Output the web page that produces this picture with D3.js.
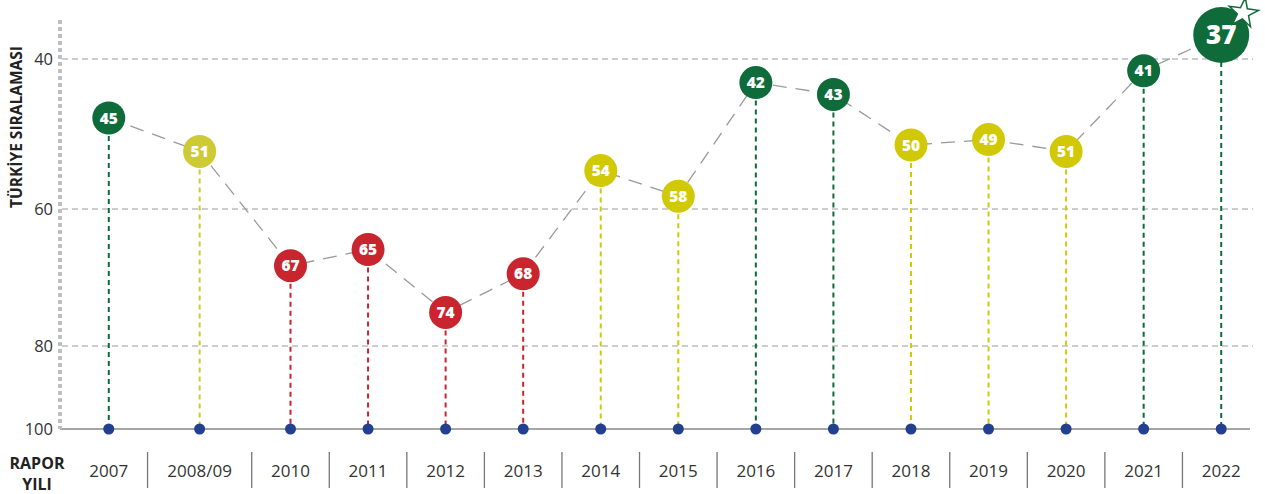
<html lang="tr">
<head>
    <meta charset="UTF-8">
    <title>Türkiye Sıralaması</title>
    <script src="https://cdn.jsdelivr.net/npm/d3@7/dist/d3.min.js"></script>
    <style>
        body { margin: 0; background: #fff; }
        text { font-family: "Open Sans", sans-serif; }
    </style>
</head>
<body>
    <svg id="svg"></svg>

    <script>

        var WIDTH = 1265;
        var HEIGHT = 494;

        // data
        var years = ["2007", "2008/09", "2010", "2011", "2012", "2013", "2014", "2015",
                     "2016", "2017", "2018", "2019", "2020", "2021", "2022"];
        var ranks = [45, 51, 67, 65, 74, 68, 54, 58, 42, 43, 50, 49, 51, 41, 37];
        var tiers = ["top", "mid", "low", "low", "low", "low", "mid", "mid",
                     "top", "top", "mid", "mid", "mid", "top", "top"];
        var yTicks = [40, 60, 80, 100];

        var colors = { top: "#0f6b3a", mid: "#d2c906", low: "#c9252f" };
        var midOld = "#cccb33";

        var svg = d3.select("#svg")
                    .attr("width", WIDTH)
                    .attr("height", HEIGHT);

        // x bands: width grows with label length
        var measure = svg.append("text").attr("font-size", "17px");
        var widths = years.map(function(y){
            measure.text(y);
            return measure.node().getComputedTextLength() + 36;
        });
        measure.remove();
        var cum = [0];
        widths.forEach(function(w, i){ cum.push(cum[i] + w); });
        var xPix = d3.scaleLinear().domain([0, cum[cum.length-1]]).range([70, 1260]);
        var xCenter = function(i){ return xPix(cum[i] + widths[i]/2); };

        // y is not linear in the original
        var yScale = d3.scaleLinear()
                        .domain([37, 40, 45, 50, 60, 70, 80, 100])
                        .range([35, 59, 118, 145, 209, 290, 346, 429]);

        // grid
        svg.selectAll("line.grid")
            .data(yTicks.slice(0, 3))
            .enter()
            .append("line")
            .attr("class", "grid")
            .attr("x1", 62).attr("x2", 1253)
            .attr("y1", function(d){ return yScale(d); })
            .attr("y2", function(d){ return yScale(d); })
            .attr("stroke", "#bdbdbd")
            .attr("stroke-width", 1.5)
            .attr("stroke-dasharray", "6,4");

        // baseline
        svg.append("line")
            .attr("x1", 60).attr("x2", 1250)
            .attr("y1", yScale(100)).attr("y2", yScale(100))
            .attr("stroke", "#a6a6a6")
            .attr("stroke-width", 2);

        // y axis dotted line
        svg.append("line")
            .attr("x1", 60).attr("x2", 60)
            .attr("y1", 20).attr("y2", yScale(100))
            .attr("stroke", "#bfbfbf")
            .attr("stroke-width", 4)
            .attr("stroke-dasharray", "4,3");

        var yAxis = d3.axisLeft(yScale)
                        .tickValues(yTicks)
                        .tickSize(0)
                        .tickPadding(7);
        var gy = svg.append("g")
            .attr("transform", "translate(60,0)")
            .call(yAxis);
        gy.select(".domain").remove();
        gy.selectAll("text")
            .attr("font-family", "'Open Sans', sans-serif")
            .attr("font-size", "16.5px")
            .attr("fill", "#333")
            .attr("dy", "0.35em");

        svg.append("text")
            .attr("transform", "translate(22,127) rotate(-90)")
            .attr("text-anchor", "middle")
            .attr("font-size", "15.5px")
            .attr("font-weight", "bold")
            .attr("fill", "#222")
            .text("TÜRKİYE SIRALAMASI");

        // connecting line
        var line = d3.line()
                    .x(function(d, i){ return xCenter(i); })
                    .y(function(d){ return yScale(d); });
        svg.append("path")
            .datum(ranks)
            .attr("d", line)
            .attr("fill", "none")
            .attr("stroke", "#9a9a9a")
            .attr("stroke-width", 1.3)
            .attr("stroke-dasharray", "14,9");

        var colorOf = function(i){
            if (i === 1) return midOld;
            return colors[tiers[i]];
        };

        // stems
        svg.selectAll("line.stem")
            .data(ranks)
            .enter()
            .append("line")
            .attr("class", "stem")
            .attr("x1", function(d, i){ return xCenter(i); })
            .attr("x2", function(d, i){ return xCenter(i); })
            .attr("y1", function(d){ return yScale(d); })
            .attr("y2", yScale(100))
            .attr("stroke", function(d, i){ return colorOf(i); })
            .attr("stroke-width", 2)
            .attr("stroke-dasharray", "5,4");

        // dots on baseline
        svg.selectAll("circle.base")
            .data(ranks)
            .enter()
            .append("circle")
            .attr("class", "base")
            .attr("cx", function(d, i){ return xCenter(i); })
            .attr("cy", yScale(100))
            .attr("r", 5.5)
            .attr("fill", "#233f8f");

        var last = ranks.length - 1;

        // rank bubbles
        svg.selectAll("circle.rank")
            .data(ranks)
            .enter()
            .append("circle")
            .attr("class", "rank")
            .attr("cx", function(d, i){ return xCenter(i); })
            .attr("cy", function(d){ return yScale(d); })
            .attr("r", function(d, i){ return i === last ? 28 : 16.5; })
            .attr("fill", function(d, i){ return colorOf(i); });

        svg.selectAll("text.rank")
            .data(ranks)
            .enter()
            .append("text")
            .attr("class", "rank")
            .attr("x", function(d, i){ return xCenter(i); })
            .attr("y", function(d){ return yScale(d); })
            .attr("dy", "0.36em")
            .attr("text-anchor", "middle")
            .attr("fill", "white")
            .attr("font-weight", "800")
            .attr("font-size", function(d, i){ return i === last ? "26px" : "15.5px"; })
            .text(function(d){ return d; });

        // star on the last bubble
        svg.append("path")
            .attr("d", d3.symbol().type(d3.symbolStar).size(270)())
            .attr("transform", "translate(" + (xCenter(last) + 22) + "," + (yScale(ranks[last]) - 22) + ") rotate(8)")
            .attr("fill", "white")
            .attr("stroke", colors.top)
            .attr("stroke-width", 1.5);

        // x labels
        svg.selectAll("text.year")
            .data(years)
            .enter()
            .append("text")
            .attr("class", "year")
            .attr("x", function(d, i){ return xCenter(i); })
            .attr("y", 477)
            .attr("text-anchor", "middle")
            .attr("font-size", "17px")
            .attr("fill", "#333")
            .text(function(d){ return d; });

        svg.selectAll("line.sep")
            .data(years.slice(1))
            .enter()
            .append("line")
            .attr("class", "sep")
            .attr("x1", function(d, i){ return xPix(cum[i+1]); })
            .attr("x2", function(d, i){ return xPix(cum[i+1]); })
            .attr("y1", 452).attr("y2", 488)
            .attr("stroke", "#777")
            .attr("stroke-width", 1.3);

        svg.append("text")
            .attr("x", 37).attr("y", 469)
            .attr("text-anchor", "middle")
            .attr("font-size", "16px")
            .attr("font-weight", "bold")
            .attr("fill", "#222")
            .text("RAPOR");
        svg.append("text")
            .attr("x", 37).attr("y", 490)
            .attr("text-anchor", "middle")
            .attr("font-size", "16px")
            .attr("font-weight", "bold")
            .attr("fill", "#222")
            .text("YILI");

    </script>
</body>
</html>
